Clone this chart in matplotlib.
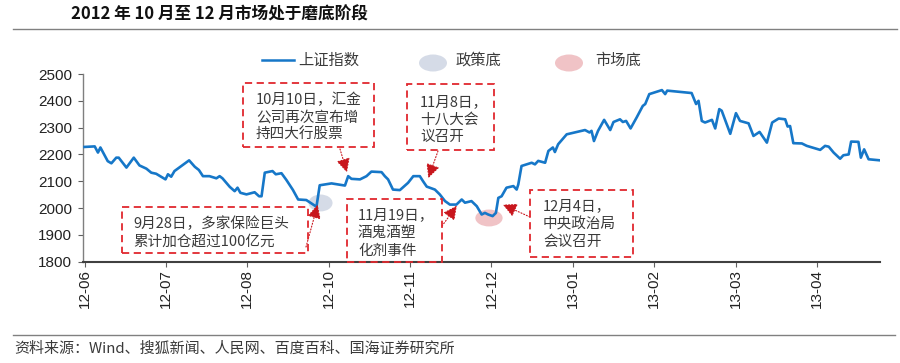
import matplotlib
matplotlib.use("Agg")
from matplotlib import pyplot as plt
from matplotlib.patches import Rectangle, Ellipse
from matplotlib.lines import Line2D

plt.rcParams['font.family'] = ['Liberation Sans', 'Noto Sans CJK SC', 'DejaVu Sans']
CJK = ['Noto Sans CJK SC', 'DejaVu Sans']

# trading-day index since 2012-06 start
DAYS = [0, 2.5, 3.3, 3.9, 5.7, 6.6, 7.8, 8.4, 10.3, 12.1, 13.5, 15.2, 16.4, 17.6, 19.9,
        20.5, 21.3, 22.1, 23.8, 25.7, 27.1, 28.1, 29.1, 30.7, 32.4, 33.2, 33.9, 35.7,
        36.9, 37.6, 38.3, 39.8, 41.8, 42.9, 43.5, 44.3, 46.2, 47.0, 48.4, 49.6, 51.2,
        52.5, 54.5, 56.2, 57.0, 57.8, 60.7, 64.0, 64.8, 65.6, 67.7, 69.3, 70.5, 73.0,
        73.8, 74.6, 75.8, 77.5, 79.5, 80.8, 82.4, 83.2, 84.1, 86.1, 87.3, 88.6, 89.8,
        91.4, 92.7, 93.5, 95.1, 96.4, 97.6, 98.4, 99.2, 100.3, 101.1, 101.7, 102.5,
        103.7, 105.4, 106.2, 106.6, 107.4, 109.9, 110.7, 111.5, 113.2, 114.0, 115.1,
        115.6, 116.4, 118.5, 121.0, 123.0, 124.1, 124.6, 125.2, 126.2, 127.7, 129.2,
        130.0, 131.6, 132.3, 133.1, 134.2, 135.7, 137.2, 137.8, 138.8, 141.9, 142.7,
        143.2, 149.2, 150.3, 150.9, 151.7, 152.5, 154.2, 155.0, 156.0, 156.6, 158.7,
        160.1, 161.1, 163.2, 164.4, 165.9, 167.7, 169.0, 170.6, 172.2, 172.8, 173.4,
        174.2, 176.3, 177.5, 180.8, 182.0, 182.9, 184.1, 185.7, 186.5, 187.8, 188.4,
        190.2, 190.8, 191.6, 192.7, 195.5]
SH_INDEX = [2228, 2230, 2207, 2226, 2175, 2167, 2188, 2188, 2151, 2188, 2159, 2147, 2132,
            2128, 2107, 2126, 2117, 2138, 2157, 2178, 2154, 2142, 2119, 2119, 2111, 2119,
            2111, 2079, 2063, 2076, 2057, 2051, 2059, 2044, 2044, 2132, 2138, 2126, 2130,
            2105, 2068, 2032, 2030, 2013, 2005, 2085, 2092, 2084, 2119, 2109, 2107, 2119,
            2136, 2134, 2119, 2107, 2069, 2067, 2094, 2119, 2119, 2100, 2080, 2069, 2051,
            2026, 2013, 2013, 2032, 2020, 2026, 2007, 1976, 1982, 1976, 1970, 1982, 2038,
            2044, 2076, 2082, 2069, 2088, 2157, 2169, 2163, 2176, 2169, 2213, 2226, 2209,
            2238, 2275, 2284, 2291, 2282, 2288, 2250, 2288, 2329, 2291, 2321, 2331, 2321,
            2325, 2297, 2338, 2381, 2388, 2425, 2440, 2425, 2438, 2429, 2388, 2400, 2325,
            2319, 2329, 2297, 2369, 2363, 2277, 2354, 2325, 2316, 2269, 2284, 2244, 2319,
            2334, 2331, 2304, 2306, 2242, 2241, 2232, 2217, 2232, 2229, 2207, 2184, 2197,
            2200, 2248, 2247, 2188, 2219, 2182, 2178]

TICK_DAYS = [0, 20, 40, 60, 80, 100, 120, 140, 160, 180]
TICK_LABELS = ['12-06', '12-07', '12-08', '12-10', '12-11', '12-12',
               '13-01', '13-02', '13-03', '13-04']

# (day, value) of the policy bottom and market bottom
POLICY_BOTTOM = (58, 2019)
MARKET_BOTTOM = (99.4, 1963)

EVENTS = [
    "10月10日，汇金\n公司再次宣布增\n持四大行股票",
    "11月8日，\n十八大会\n议召开",
    "9月28日，多家保险巨头\n累计加仓超过100亿元",
    "11月19日，\n酒鬼酒塑\n化剂事件",
    "12月4日，\n中央政治局\n会议召开",
]
EVENT_POINTS = [(64.5, 2133), (84.5, 2112), (57.3, 2013), (91.5, 2009), (102.8, 2013)]

W, H = 900, 363
BLUE = '#1677C8'
RED = '#E0282E'
DARK = '#3A3A3A'


def px(x, y):
    return x / W, 1 - y / H


fig = plt.figure(figsize=(W / 100, H / 100), dpi=100)
ax = fig.add_axes([82.5 / W, 1 - 261.7 / H, (880 - 82.5) / W, (261.7 - 74) / H])

ax.plot(DAYS, SH_INDEX, color=BLUE, lw=1.9, zorder=3, solid_joinstyle='round')
ax.add_patch(Ellipse(POLICY_BOTTOM, 5.9, 63, color='#D5DBE7', lw=0, zorder=2))
ax.add_patch(Ellipse(MARKET_BOTTOM, 6.7, 63, color='#F0C3C6', lw=0, zorder=2))

ax.set_xlim(-0.5, DAYS[-1])
ax.set_ylim(1800, 2500)
ax.set_yticks(range(1800, 2501, 100))
ax.set_xticks(TICK_DAYS)
ax.set_xticklabels(TICK_LABELS, rotation=90)
ax.tick_params(axis='both', labelsize=11, length=3.5, color='#606060', labelcolor='#222222')
ax.tick_params(axis='x', pad=2)
ax.tick_params(axis='y', pad=4)
for s in ['top', 'right']:
    ax.spines[s].set_visible(False)
ax.spines['left'].set_color('#7F7F7F')
ax.spines['left'].set_linewidth(1.0)
ax.spines['bottom'].set_color('#404040')
ax.spines['bottom'].set_linewidth(1.5)

# event boxes: (x0, y0, x1, y1) in pixels, text left x and centre y
boxes = [(243, 83, 374, 147), (407, 84, 494, 150), (122, 207, 308, 253),
         (347, 199, 442, 262), (530, 190, 633, 257)]
text_pos = [(256, 117.5), (420, 119.5), (133, 232.5), (358, 233), (543, 224)]
tails = [(340, 149), (438, 151), (306, 247), (442, 226), (530, 217)]

for (x0, y0, x1, y1), (tx, ty), txt, tail, head in zip(boxes, text_pos, EVENTS, tails, EVENT_POINTS):
    r = Rectangle(px(x0, y1), (x1 - x0) / W, (y1 - y0) / H, transform=fig.transFigure,
                  fill=False, ec=RED, lw=1.3, ls=(0, (4, 2.5)), zorder=5)
    fig.add_artist(r)
    fig.text(*px(tx, ty), txt, family=CJK, fontsize=10.5, color=DARK,
             ha='left', va='center', linespacing=1.32)
    ax.annotate('', xy=head, xycoords='data', xytext=px(*tail), textcoords='figure fraction',
                arrowprops=dict(arrowstyle='-|>,head_length=0.7,head_width=0.35',
                                color='#C8161D', lw=0.8, ls=':', shrinkA=0, shrinkB=0,
                                mutation_scale=12),
                annotation_clip=False, zorder=6)

# legend
fig.add_artist(Line2D([262 / W, 294 / W], [1 - 60 / H] * 2, color=BLUE, lw=1.8))
fig.text(*px(298, 60), '上证指数', family=CJK, fontsize=11, color=DARK, va='center')
fig.add_artist(Ellipse(px(433, 63), 28 / W, 17 / H, transform=fig.transFigure,
                       color='#D5DBE7', lw=0))
fig.text(*px(456, 60), '政策底', family=CJK, fontsize=11, color=DARK, va='center')
fig.add_artist(Ellipse(px(569, 63), 28 / W, 17 / H, transform=fig.transFigure,
                       color='#F0C3C6', lw=0))
fig.text(*px(595, 60), '市场底', family=CJK, fontsize=11, color=DARK, va='center')

# title, rules, source
fig.text(*px(71, 15), '2012 年 10 月至 12 月市场处于磨底阶段', family=CJK, fontsize=12,
         fontweight='bold', color='#111111', va='center')
fig.add_artist(Line2D([13 / W, 897 / W], [1 - 28.5 / H] * 2, color='#808080', lw=1.0))
fig.add_artist(Line2D([13 / W, 895 / W], [1 - 335 / H] * 2, color='#808080', lw=1.0))
fig.text(*px(14, 349), '资料来源：Wind、搜狐新闻、人民网、百度百科、国海证券研究所',
         family=CJK, fontsize=10.8, color=DARK, va='center')

fig.savefig('out.png', dpi=100)
